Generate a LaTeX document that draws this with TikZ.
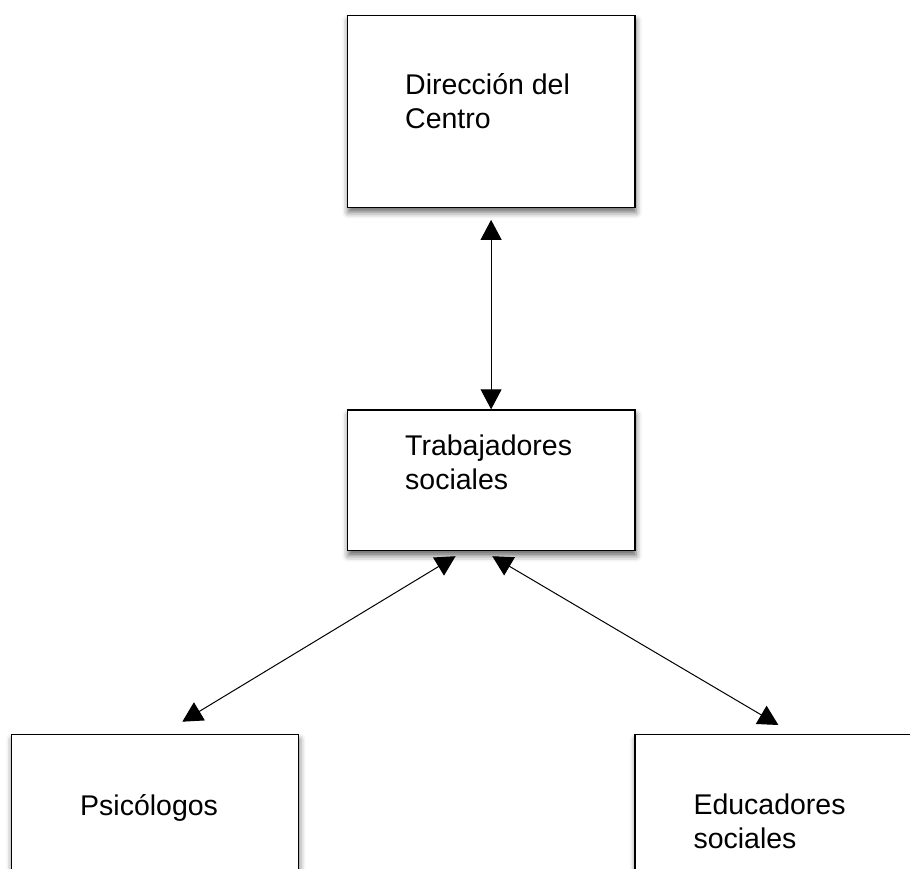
\documentclass[tikz,border=0pt]{standalone}
\usepackage{fontspec}
\setmainfont{Liberation Sans}
\usetikzlibrary{arrows.meta,shadows.blur}
\begin{document}
\begin{tikzpicture}[x=1pt,y=-1pt,
  box/.style={draw=black, line width=1.2pt, fill=white, rectangle, inner sep=0pt, anchor=north west,
    blur shadow={shadow xshift=1pt, shadow yshift=-5pt, shadow blur radius=6pt, shadow opacity=60}},
  lbl/.style={anchor=base west, inner sep=0pt, font=\fontsize{28.5}{34}\selectfont, align=left},
  arr/.style={line width=1pt, {Triangle[length=20pt,width=21pt]}-{Triangle[length=20pt,width=21pt]}}]
\path[use as bounding box] (0,0) rectangle (910,869);
\node[box, minimum width=287.6pt, minimum height=191.7pt] (dir) at (346.7,15) {};
\node[box, minimum width=287.6pt, minimum height=140.7pt] (trab) at (346.7,409.3) {};
\node[box, minimum width=287pt, minimum height=160pt] (psi) at (10.7,734) {};
\node[box, minimum width=287pt, minimum height=160pt] (edu) at (634.3,734) {};
% base anchor of a two-line label is the baseline of its last line
\node[lbl] (tdir) at (405,129) {Dirección del\\Centro};
\node[lbl] (ttrab) at (405,489) {Trabajadores\\sociales};
\node[lbl] (tpsi) at (80,815) {Psicólogos};
\node[lbl] (tedu) at (693.3,848) {Educadores\\sociales};
\draw[arr] ([yshift=-12pt]dir.south) -- (trab.north);
\draw[arr] ([xshift=-35.5pt,yshift=-5pt]trab.south) -- ([xshift=27.5pt,yshift=12.3pt]psi.north);
\draw[arr] ([xshift=1.2pt,yshift=-5pt]trab.south) -- ([yshift=9pt]edu.north);
\end{tikzpicture}
\end{document}
